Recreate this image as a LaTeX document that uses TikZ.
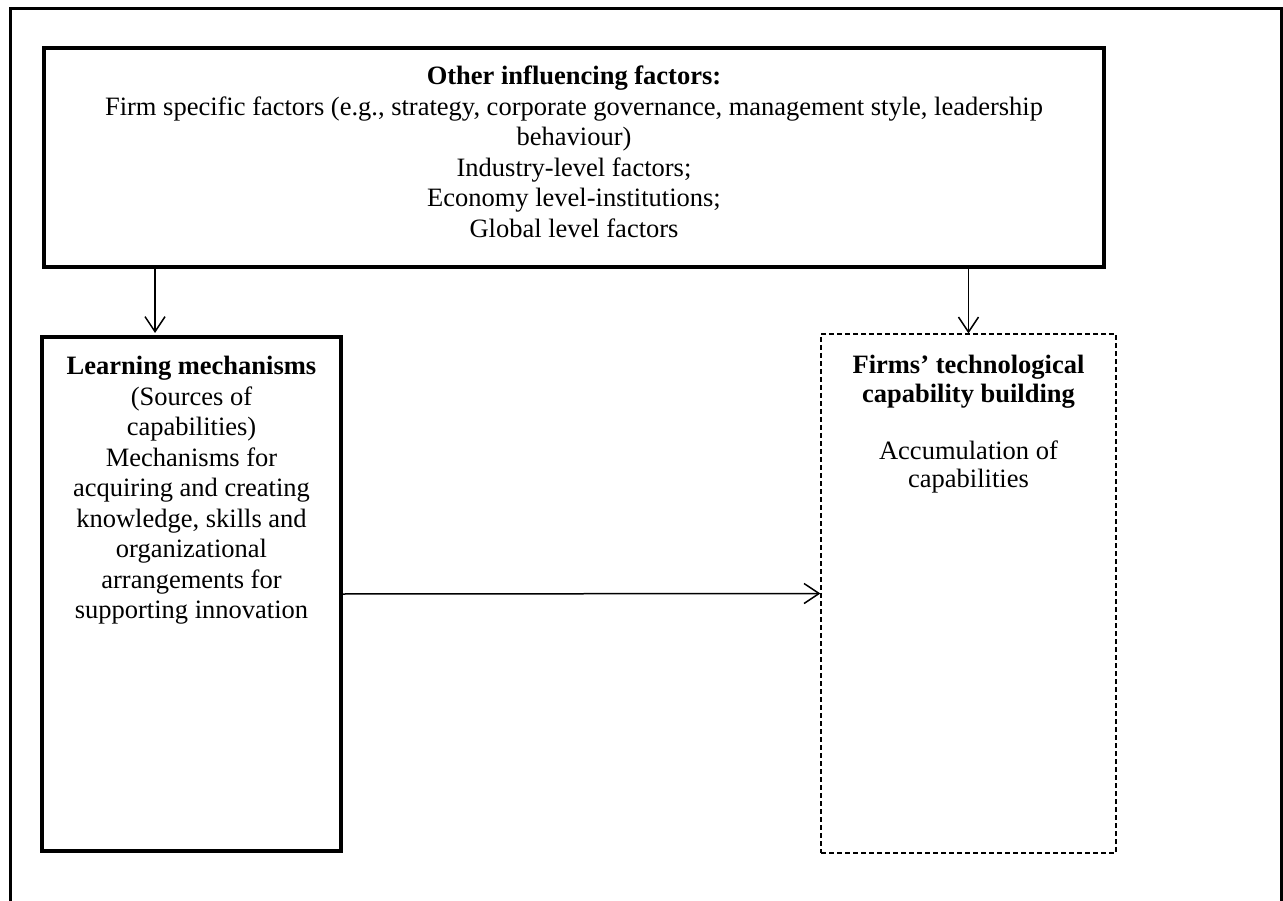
\documentclass[tikz,border=0pt]{standalone}
\usepackage{fontspec}
\setmainfont{Liberation Serif}
\usetikzlibrary{positioning,arrows.meta}

\begin{document}
\begin{tikzpicture}[x=1pt,y=-1pt,
    heavybox/.style={draw,line width=4.3pt,inner sep=0pt},
    dashbox/.style={draw,line width=1.2pt,dash pattern=on 5pt off 3pt,inner sep=0pt},
    boxtext/.style={align=center,inner sep=0pt,font=\fontsize{26.5}{30.5}\selectfont},
    flow/.style={line width=1.5pt,-{Straight Barb[length=15pt,width=20pt,line width=1.5pt]}}]
        \useasboundingbox (0,0) rectangle (1283,901);
        \draw[line width=3pt] (10,901) -- (10,9) -- (1281,9) -- (1281,901);

        \node[heavybox,minimum width=1060pt,minimum height=219pt] (influence) at (574,157.5) {};
        \node[heavybox,line width=4pt,minimum width=299pt,minimum height=514pt] (learning) at (191.5,594) {};
        \node[dashbox,minimum width=295pt,minimum height=519pt] (capability) at (968.5,593.5) {};

        \node[boxtext,below=20pt of influence.north] (influencetext) {\textbf{Other influencing factors:}\\
          Firm specific factors (e.g., strategy, corporate governance, management style, leadership\\
          behaviour)\\ Industry-level factors;\\ Economy level-institutions;\\ Global level factors};
        \node[boxtext,below=21pt of learning.north] (learningtext) {\textbf{Learning mechanisms}\\
          (Sources of\\ capabilities)\\ Mechanisms for\\ acquiring and creating\\ knowledge, skills and\\
          organizational\\ arrangements for\\ supporting innovation};
        \node[boxtext,font=\fontsize{26.5}{28.5}\selectfont,below=22pt of capability.north] (capabilitytext)
          {\textbf{Firms’ technological}\\ \textbf{capability building}\\[28.5pt] Accumulation of\\ capabilities};

        \coordinate (leftdrop) at (155,0);
        \draw[flow] (influence.south -| leftdrop) -- ([yshift=2pt]learning.north -| leftdrop);
        \draw[flow] (influence.south -| capability.north) -- (capability.north);
        \draw[flow] (learning.east) -- (capability.west);
    \end{tikzpicture}
\end{document}
